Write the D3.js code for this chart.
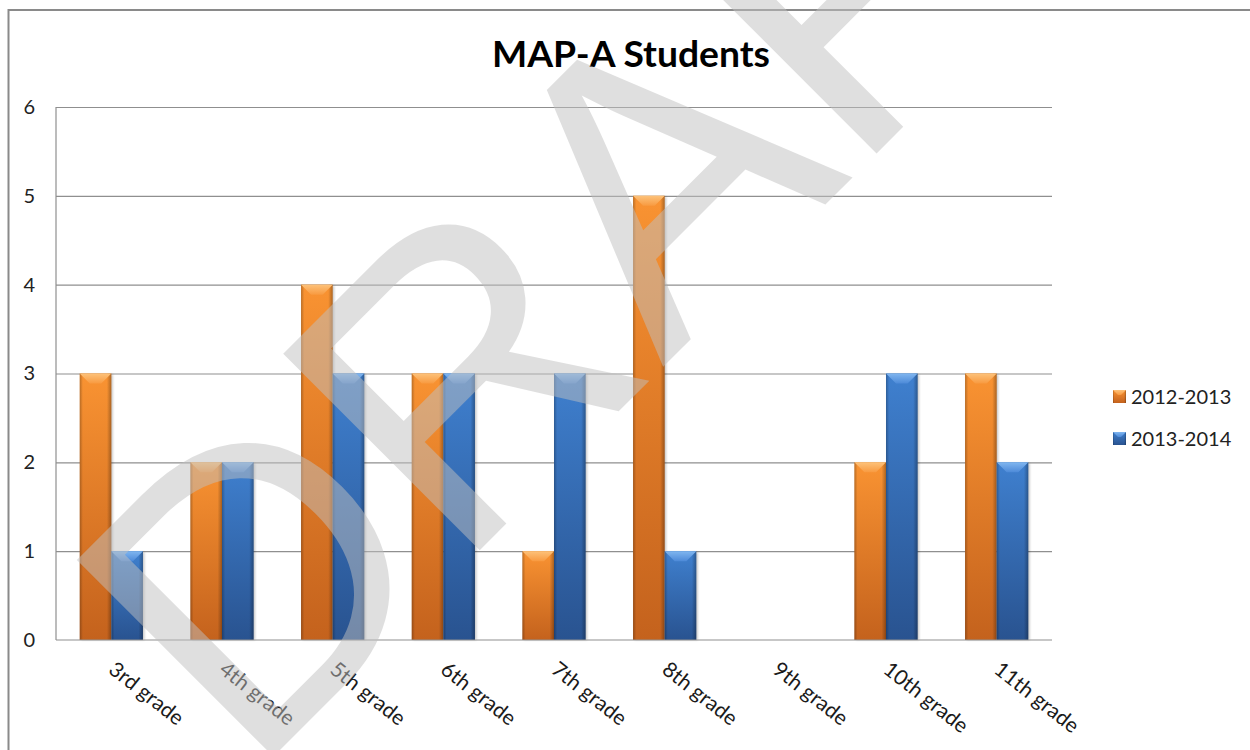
<!DOCTYPE html>
<html><head><meta charset="utf-8">
<script src="https://cdn.jsdelivr.net/npm/d3@7"></script>
<style>body{margin:0;background:#fff} svg{display:block}</style>
</head><body>
<svg id="c" width="1250" height="750"></svg>
<script>
const categories = ["3rd grade","4th grade","5th grade","6th grade","7th grade","8th grade","9th grade","10th grade","11th grade"];
const seriesNames = ["2012-2013","2013-2014"];
const values2012 = [3,2,4,3,1,5,0,2,3];
const values2013 = [1,2,3,3,3,1,0,3,2];
const yTicks = [0,1,2,3,4,5,6];
const titleText = "MAP-A Students";
const watermarkText = "DRAFT";

const svg = d3.select("#c");
const font = "Lato, 'Open Sans', sans-serif";
const plot = {left:56, right:1052, top:107, bottom:640};

const defs = svg.append("defs");
function vgrad(id, stops){
  const g = defs.append("linearGradient").attr("id",id).attr("x1",0).attr("y1",0).attr("x2",0).attr("y2",1);
  stops.forEach(s=>g.append("stop").attr("offset",s[0]).attr("stop-color",s[1]).attr("stop-opacity", s[2]==null?1:s[2]));
}
vgrad("gO", [["0%","#f99332"],["100%","#c4621d"]]);
vgrad("gB", [["0%","#3f80cf"],["100%","#295390"]]);
vgrad("bO", [["0%","#fdc27a"],["100%","#f89a40"]]);
vgrad("bB", [["0%","#80b6f0"],["100%","#4d8ad8"]]);
const sh = defs.append("linearGradient").attr("id","side").attr("x1",0).attr("y1",0).attr("x2",1).attr("y2",0);
[["0%",0.25],["10%",0],["86%",0],["100%",0.3]].forEach(s=>sh.append("stop").attr("offset",s[0]).attr("stop-color","#000").attr("stop-opacity",s[1]));
const blur = defs.append("filter").attr("id","blur").attr("x","-20%").attr("y","-20%").attr("width","140%").attr("height","140%");
blur.append("feGaussianBlur").attr("stdDeviation",1.2);

// outer chart border (top and left visible)
svg.append("rect").attr("x",8.5).attr("y",10).attr("width",1400).attr("height",900)
  .attr("fill","none").attr("stroke","#8a8a8a").attr("stroke-width",2);

const x0 = d3.scaleBand().domain(categories).range([plot.left, plot.right]).padding(0);
const bw = x0.bandwidth()/3.5;
const x1 = d3.scaleBand().domain(seriesNames).range([0.75*bw, 2.75*bw]).padding(0);
const y = d3.scaleLinear().domain([0,6]).range([plot.bottom, plot.top]);

// gridlines
const grid = svg.append("g").attr("transform",`translate(${plot.left},0)`)
  .call(d3.axisLeft(y).tickValues(yTicks.filter(v=>v>0)).tickSize(-(plot.right-plot.left)).tickFormat(""));
grid.select(".domain").remove();
grid.selectAll("line").attr("stroke","#8f8f8f").attr("stroke-width",1.2);

// left plot border
svg.append("line").attr("x1",plot.left).attr("x2",plot.left).attr("y1",plot.top).attr("y2",plot.bottom)
  .attr("stroke","#8f8f8f").attr("stroke-width",1.2);

// bars
const data = [];
categories.forEach((c,i)=>{
  data.push({cat:c, s:seriesNames[0], v:values2012[i], k:"O"});
  data.push({cat:c, s:seriesNames[1], v:values2013[i], k:"B"});
});
const bars = svg.append("g").selectAll("g").data(data.filter(d=>d.v>0)).join("g");
bars.each(function(d){
  const g = d3.select(this);
  const bx = x0(d.cat)+x1(d.s), w = x1.bandwidth(), by = y(d.v), h = y(0)-y(d.v);
  g.append("rect").attr("x",bx+1.5).attr("y",by+1).attr("width",w).attr("height",h-1)
    .attr("fill","#000").attr("opacity",0.22).attr("filter","url(#blur)");
  g.append("rect").attr("x",bx).attr("y",by).attr("width",w).attr("height",h).attr("fill",`url(#g${d.k})`);
  g.append("rect").attr("x",bx).attr("y",by).attr("width",w).attr("height",h).attr("fill","url(#side)");
  const b = Math.min(10, h/2);
  g.append("polygon").attr("points",[[bx,by],[bx+w,by],[bx+w-b,by+b],[bx+b,by+b]].map(p=>p.join(",")).join(" "))
    .attr("fill",`url(#b${d.k})`);
});

// bottom axis line
svg.append("line").attr("x1",plot.left).attr("x2",plot.right).attr("y1",plot.bottom).attr("y2",plot.bottom)
  .attr("stroke","#8f8f8f").attr("stroke-width",1.2);

// y tick labels
const ya = svg.append("g").attr("transform",`translate(35,0)`)
  .call(d3.axisLeft(y).tickValues(yTicks).tickFormat(d3.format("d")).tickSize(0).tickPadding(0));
ya.select(".domain").remove();
ya.selectAll("text").attr("font-family",font).attr("font-size",20).attr("fill","#222").attr("x",0);

// x tick labels
const xa = svg.append("g").attr("transform",`translate(0,${plot.bottom})`)
  .call(d3.axisBottom(x0).tickSize(0));
xa.select(".domain").remove();
xa.selectAll("text").attr("font-family",font).attr("font-size",21).attr("fill","#1a1a1a")
  .attr("x",0).attr("y",0).attr("dy",0).attr("text-anchor","start")
  .attr("transform","translate(-4,32) rotate(38)");

// title
svg.append("text").attr("x",631).attr("y",67).attr("text-anchor","middle")
  .attr("font-family",font).attr("font-weight","bold").attr("font-size",36)
  .attr("textLength",278).attr("lengthAdjust","spacingAndGlyphs").attr("fill","#000").text(titleText);

// legend
const leg = svg.append("g").selectAll("g").data(seriesNames).join("g")
  .attr("transform",(d,i)=>`translate(1113,${390+i*42})`);
leg.each(function(d,i){
  const g = d3.select(this), k = i===0?"O":"B", s=13, b=5;
  g.append("rect").attr("width",s).attr("height",s).attr("fill",`url(#g${k})`);
  g.append("rect").attr("width",s).attr("height",s).attr("fill","url(#side)");
  g.append("polygon").attr("points",[[0,0],[s,0],[s-b,b],[b,b]].map(p=>p.join(",")).join(" ")).attr("fill",`url(#b${k})`);
  g.append("text").attr("x",18).attr("y",13.5).attr("font-family",font).attr("font-size",20)
    .attr("fill","#222").text(d);
});

// watermark
svg.append("text").attr("x",250).attr("y",780).attr("transform","rotate(-45,250,780)")
  .attr("font-family","'Liberation Sans', Arial, sans-serif").attr("font-size",404)
  .attr("fill","#c0c0c0").attr("fill-opacity",0.5).text(watermarkText);
</script>
</body></html>
